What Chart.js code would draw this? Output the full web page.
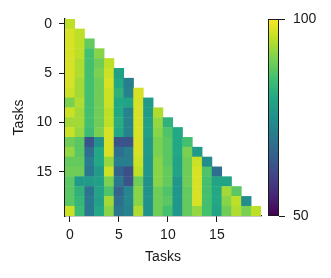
<!DOCTYPE html>
<html>
<head>
<meta charset="utf-8">
<script src="https://cdn.jsdelivr.net/npm/chart.js@4/dist/chart.umd.min.js"></script>
<style>
  body { margin: 0; background: #fff; }
  #wrap { position: relative; width: 331px; height: 278px; }
  #heat { position: absolute; left: 0; top: 0; }
  #bar { position: absolute; left: 262px; top: 0; }
</style>
</head>
<body>
<div id="wrap">
  <canvas id="heat" width="331" height="278"></canvas>
  <canvas id="bar" width="69" height="278"></canvas>
</div>
<script>
// accuracy (%) on task j after training up to task i (lower triangle)
const rows = [
  [95],
  [97, 95],
  [97, 95, 88],
  [97, 95, 85, 91],
  [97, 94, 85, 89, 95],
  [97, 94, 85, 90, 96, 78],
  [97, 93, 85, 89, 97, 80, 71],
  [96, 93, 85, 89, 96, 82, 72, 97],
  [90, 94, 85, 89, 96, 80, 79, 97, 77],
  [96, 93, 85, 89, 95, 80, 72, 97, 77, 94],
  [93, 93, 85, 89, 95, 81, 72, 97, 78, 92, 82],
  [96, 92, 84, 90, 97, 80, 72, 97, 78, 91, 86, 80],
  [89, 87, 63, 75, 97, 63, 63, 97, 77, 90, 87, 80, 85],
  [92, 87, 68, 80, 97, 68, 71, 97, 77, 90, 87, 80, 90, 77],
  [88, 88, 71, 80, 92, 71, 71, 96, 76, 91, 87, 79, 89, 96, 74],
  [89, 89, 70, 77, 96, 66, 62, 95, 76, 91, 88, 79, 89, 97, 86, 68],
  [87, 77, 77, 78, 90, 70, 63, 89, 75, 91, 88, 76, 89, 97, 85, 79, 79],
  [87, 82, 69, 79, 86, 66, 73, 91, 75, 89, 86, 76, 88, 97, 85, 80, 93, 87],
  [87, 83, 70, 78, 93, 68, 73, 91, 75, 89, 87, 76, 88, 97, 85, 80, 91, 95, 74],
  [96, 84, 70, 80, 91, 70, 72, 94, 75, 89, 85, 76, 88, 92, 85, 79, 89, 94, 90, 95]
];
const taskTicks = [0, 5, 10, 15];
const colorTicks = [50, 100];
const vmin = 50, vmax = 100;

const viridis = ['#440154', '#482475', '#414487', '#355f8d', '#2a788e', '#21918c',
                 '#22a884', '#44bf70', '#7ad151', '#bddf26', '#fde725'];

function hex(c) {
  return [1, 3, 5].map(k => parseInt(c.slice(k, k + 2), 16));
}
function colorFor(v) {
  let t = (v - vmin) / (vmax - vmin);
  t = Math.max(0, Math.min(1, t)) * (viridis.length - 1);
  const k = Math.min(Math.floor(t), viridis.length - 2);
  const f = t - k;
  const a = hex(viridis[k]), b = hex(viridis[k + 1]);
  const c = a.map((x, n) => Math.round(x + (b[n] - x) * f));
  return 'rgb(' + c.join(',') + ')';
}

const cells = [];
rows.forEach((r, i) => r.forEach((v, j) => cells.push({ x: j, y: i, v: v })));

const font = { family: 'Liberation Sans', size: 14 };
const ink = '#1a1a1a';

new Chart(document.getElementById('heat'), {
  type: 'scatter',
  data: {
    datasets: [{
      data: cells,
      pointStyle: 'rect',
      pointBorderWidth: 0,
      pointRadius: (c) => {
        const a = c.chart.chartArea;
        return a ? ((a.right - a.left) / rows.length + 0.5) / Math.SQRT2 : 3;
      },
      backgroundColor: (c) => c.raw ? colorFor(c.raw.v) : '#000'
    }]
  },
  options: {
    responsive: false,
    animation: false,
    events: [],
    layout: { padding: { top: 19, right: 70, left: 0, bottom: 0 } },
    plugins: { legend: { display: false }, tooltip: { enabled: false } },
    scales: {
      x: {
        type: 'linear',
        min: -0.5,
        max: 19.5,
        afterBuildTicks: (a) => { a.ticks = taskTicks.map(v => ({ value: v })); },
        afterFit: (a) => { a.height = 62; },
        grid: { drawOnChartArea: false, tickLength: 6, color: ink },
        border: { color: ink, width: 1.3 },
        ticks: { font: font, color: ink, padding: 5, maxRotation: 0 },
        title: { display: true, text: 'Tasks', font: font, color: ink, padding: { top: 0, bottom: 12 } }
      },
      y: {
        type: 'linear',
        reverse: true,
        min: -0.5,
        max: 19.5,
        afterBuildTicks: (a) => { a.ticks = taskTicks.map(v => ({ value: v })); },
        afterFit: (a) => { a.width = 65; },
        grid: { drawOnChartArea: false, tickLength: 6, color: ink },
        border: { color: ink, width: 1.3 },
        ticks: { font: font, color: ink, padding: 7 },
        title: { display: true, text: 'Tasks', font: font, color: ink, padding: { top: 11, bottom: 0 } }
      }
    }
  }
});

new Chart(document.getElementById('bar'), {
  type: 'bar',
  data: {
    labels: [''],
    datasets: [{
      data: [[vmin, vmax]],
      barPercentage: 1,
      categoryPercentage: 1,
      borderColor: ink,
      borderWidth: 1.3,
      borderSkipped: false,
      backgroundColor: (c) => {
        const a = c.chart.chartArea;
        if (!a) return null;
        const g = c.chart.ctx.createLinearGradient(0, a.bottom, 0, a.top);
        viridis.forEach((col, k) => g.addColorStop(k / (viridis.length - 1), col));
        return g;
      }
    }]
  },
  options: {
    responsive: false,
    animation: false,
    events: [],
    layout: { padding: { top: 19, bottom: 62, left: 6, right: 12 } },
    plugins: { legend: { display: false }, tooltip: { enabled: false } },
    scales: {
      x: { display: false },
      y: {
        position: 'right',
        min: vmin,
        max: vmax,
        afterBuildTicks: (a) => { a.ticks = colorTicks.map(v => ({ value: v })); },
        afterFit: (a) => { a.width = 40; },
        grid: { drawOnChartArea: false, tickLength: 6, color: ink },
        border: { display: false },
        ticks: { font: font, color: ink, padding: 8 }
      }
    }
  }
});
</script>
</body>
</html>
